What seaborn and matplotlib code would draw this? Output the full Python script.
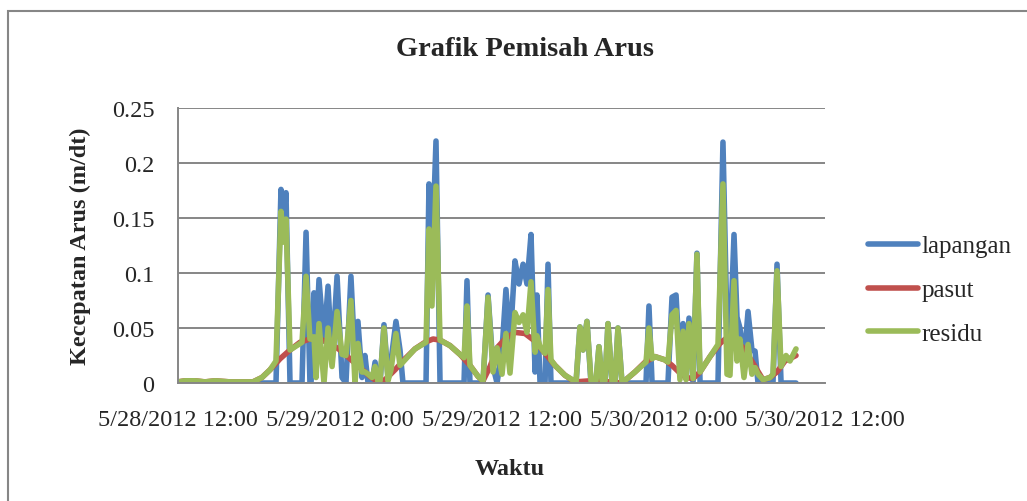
import pandas as pd
import seaborn as sns
import matplotlib.pyplot as plt
from matplotlib.patches import Rectangle

# time is in hours after 5/28/2012 12:00
start = pd.Timestamp('2012-05-28 12:00')

jam_lapangan = [0.00, 7.27, 7.64, 7.86, 8.01, 8.31, 9.20, 9.50, 9.79, 9.87,
                10.09, 10.24, 10.46, 10.83, 11.13, 11.43, 11.80, 12.17, 12.46, 12.83,
                13.13, 13.35, 13.65, 13.87, 14.10, 14.39, 14.62, 14.84, 14.99, 15.28,
                15.58, 15.80, 16.17, 16.47, 16.69, 18.40, 18.62, 18.84, 19.14, 19.44,
                21.22, 21.44, 21.66, 22.63, 23.00, 23.37, 23.67, 24.04, 24.33, 24.63,
                25.00, 25.30, 25.60, 25.89, 26.19, 26.49, 26.63, 26.86, 27.23, 27.45,
                27.67, 29.53, 29.82, 30.05, 30.34, 30.64, 31.01, 31.23, 31.46, 31.68,
                31.90, 32.20, 32.42, 32.64, 32.94, 34.72, 34.94, 35.17, 36.35, 36.65,
                36.95, 37.24, 37.47, 37.69, 37.91, 38.21, 38.50, 38.73, 40.06, 40.43,
                40.73, 40.95, 41.25, 41.47, 41.69, 41.99, 42.29, 42.58, 42.81, 43.03,
                44.14, 44.44, 44.74, 45.85]
lapangan = [0.000, 0.000, 0.176, 0.150, 0.173, 0.000, 0.000, 0.137, 0.000, 0.000,
            0.082, 0.035, 0.094, 0.038, 0.088, 0.020, 0.097, 0.005, 0.000, 0.097,
            0.020, 0.056, 0.005, 0.025, 0.000, 0.000, 0.019, 0.000, 0.000, 0.053,
            0.005, 0.020, 0.056, 0.030, 0.000, 0.000, 0.181, 0.110, 0.220, 0.000,
            0.000, 0.093, 0.000, 0.000, 0.080, 0.015, 0.000, 0.030, 0.085, 0.035,
            0.111, 0.090, 0.108, 0.090, 0.135, 0.010, 0.080, 0.000, 0.000, 0.108,
            0.000, 0.000, 0.051, 0.030, 0.056, 0.000, 0.000, 0.033, 0.000, 0.000,
            0.054, 0.000, 0.000, 0.050, 0.000, 0.000, 0.070, 0.000, 0.000, 0.078,
            0.080, 0.012, 0.054, 0.008, 0.059, 0.000, 0.118, 0.000, 0.000, 0.219,
            0.050, 0.035, 0.135, 0.060, 0.050, 0.020, 0.065, 0.030, 0.029, 0.000,
            0.000, 0.108, 0.000, 0.000]

jam_pasut = [0.00, 0.52, 1.26, 2.00, 2.75, 3.86, 5.56, 6.23, 6.83, 7.57,
             8.31, 9.05, 9.79, 10.53, 11.28, 12.02, 12.76, 13.50, 14.24, 14.84,
             15.36, 16.10, 16.84, 17.58, 18.32, 18.92, 19.44, 20.18, 20.92, 21.66,
             22.26, 22.63, 23.15, 23.67, 24.26, 25.00, 25.74, 26.49, 27.23, 27.97,
             28.71, 29.45, 30.57, 32.05, 32.94, 33.90, 34.65, 35.39, 36.13, 36.65,
             37.24, 37.69, 38.21, 38.73, 39.47, 40.21, 40.80, 41.32, 42.07, 42.81,
             43.40, 43.92, 44.44, 45.03, 45.85]
pasut = [0.001, 0.002, 0.002, 0.001, 0.002, 0.001, 0.001, 0.005, 0.012, 0.022,
         0.030, 0.037, 0.040, 0.040, 0.036, 0.030, 0.022, 0.014, 0.006, 0.001,
         0.003, 0.012, 0.022, 0.031, 0.037, 0.040, 0.039, 0.034, 0.026, 0.016,
         0.006, 0.002, 0.015, 0.032, 0.040, 0.046, 0.045, 0.038, 0.027, 0.016,
         0.007, 0.001, 0.002, 0.001, 0.000, 0.010, 0.019, 0.024, 0.021, 0.016,
         0.009, 0.005, 0.004, 0.010, 0.024, 0.036, 0.042, 0.040, 0.030, 0.015,
         0.003, 0.005, 0.010, 0.020, 0.025]

jam_residu = [0.00, 0.52, 1.26, 2.00, 2.75, 3.86, 5.56, 6.23, 6.83, 7.27,
              7.64, 7.86, 8.01, 8.31, 9.20, 9.50, 9.79, 9.87, 10.09, 10.24,
              10.46, 10.83, 11.13, 11.43, 11.80, 12.17, 12.46, 12.83, 13.13, 13.35,
              13.65, 13.87, 14.10, 14.39, 14.62, 14.84, 14.99, 15.28, 15.58, 15.80,
              16.17, 16.47, 16.69, 17.58, 18.40, 18.62, 18.84, 19.14, 19.44, 20.18,
              20.92, 21.22, 21.44, 21.66, 22.26, 22.63, 23.00, 23.37, 23.67, 24.04,
              24.33, 24.63, 25.00, 25.30, 25.60, 25.89, 26.19, 26.49, 26.63, 26.86,
              27.23, 27.45, 27.67, 27.97, 28.71, 29.53, 29.82, 30.05, 30.34, 30.64,
              31.01, 31.23, 31.46, 31.68, 31.90, 32.20, 32.42, 32.64, 32.94, 33.90,
              34.72, 34.94, 35.17, 35.39, 36.13, 36.35, 36.65, 36.95, 37.24, 37.47,
              37.69, 37.91, 38.21, 38.50, 38.73, 39.47, 40.06, 40.43, 40.73, 40.95,
              41.25, 41.47, 41.69, 41.99, 42.29, 42.58, 42.81, 43.03, 43.40, 43.92,
              44.14, 44.44, 44.74, 45.11, 45.40, 45.85]
residu = [0.001, 0.002, 0.002, 0.001, 0.002, 0.001, 0.001, 0.005, 0.012, 0.020,
          0.156, 0.128, 0.149, 0.030, 0.037, 0.097, 0.040, 0.040, 0.042, 0.005,
          0.054, 0.000, 0.050, 0.015, 0.065, 0.026, 0.025, 0.075, 0.000, 0.036,
          0.010, 0.010, 0.008, 0.005, 0.015, 0.001, 0.002, 0.050, 0.002, 0.012,
          0.045, 0.016, 0.019, 0.031, 0.037, 0.140, 0.070, 0.179, 0.039, 0.034,
          0.026, 0.023, 0.070, 0.016, 0.006, 0.002, 0.078, 0.010, 0.032, 0.008,
          0.045, 0.009, 0.064, 0.055, 0.062, 0.046, 0.092, 0.028, 0.043, 0.033,
          0.027, 0.085, 0.021, 0.016, 0.007, 0.001, 0.051, 0.030, 0.056, 0.002,
          0.002, 0.033, 0.002, 0.002, 0.054, 0.001, 0.001, 0.050, 0.000, 0.010,
          0.019, 0.050, 0.022, 0.024, 0.021, 0.019, 0.062, 0.066, 0.003, 0.047,
          0.003, 0.054, 0.004, 0.117, 0.010, 0.024, 0.035, 0.181, 0.008, 0.007,
          0.093, 0.020, 0.040, 0.005, 0.035, 0.008, 0.014, 0.008, 0.003, 0.005,
          0.008, 0.102, 0.015, 0.025, 0.020, 0.031]

seri = ['lapangan', 'pasut', 'residu']
warna = ['#4F81BD', '#C0504D', '#9BBB59']

x_ticks = ['2012-05-28 12:00', '2012-05-29 00:00', '2012-05-29 12:00',
           '2012-05-30 00:00', '2012-05-30 12:00']
x_labels = ['5/28/2012 12:00', '5/29/2012 0:00', '5/29/2012 12:00',
            '5/30/2012 0:00', '5/30/2012 12:00']
y_ticks = [0, 0.05, 0.1, 0.15, 0.2, 0.25]
y_labels = ['0', '0.05', '0.1', '0.15', '0.2', '0.25']

frames = []
for nama, jam, nilai in zip(seri, [jam_lapangan, jam_pasut, jam_residu],
                            [lapangan, pasut, residu]):
    frames.append(pd.DataFrame({
        'waktu': start + pd.to_timedelta(jam, unit='h'),
        'kecepatan': nilai,
        'seri': nama,
    }))
df = pd.concat(frames, ignore_index=True)

sns.set_style('white')
plt.rcParams['font.family'] = ['Liberation Serif', 'DejaVu Serif']
grey = '#868686'

fig = plt.figure(figsize=(10.27, 5.02), dpi=100)
ax = fig.add_axes([178 / 1027, 1 - 384 / 502, 647 / 1027, 275 / 502])

sns.lineplot(data=df, x='waktu', y='kecepatan', hue='seri', hue_order=seri,
             palette=warna, linewidth=4.0, estimator=None, ax=ax,
             solid_joinstyle='round', solid_capstyle='round')

ax.set_xlim(pd.Timestamp(x_ticks[0]), pd.Timestamp(x_ticks[-1]))
ax.set_ylim(0, 0.25)
ax.set_xticks([pd.Timestamp(t) for t in x_ticks])
ax.set_xticklabels(x_labels, fontsize=17.5)
ax.set_yticks(y_ticks)
ax.set_yticklabels(y_labels, fontsize=17.5)
ax.tick_params(axis='x', length=0, pad=19)
ax.tick_params(axis='y', length=0, pad=17)
ax.yaxis.grid(True, color=grey, linewidth=1.4)
ax.set_axisbelow(True)
for s in ['top', 'right']:
    ax.spines[s].set_visible(False)
for s in ['left', 'bottom']:
    ax.spines[s].set_color(grey)
    ax.spines[s].set_linewidth(1.4)
ax.set_xlabel('')
ax.set_ylabel('')

handles, labels = ax.get_legend_handles_labels()
ax.legend(handles, labels, loc='upper left', bbox_to_anchor=(868 / 1027, 1 - 236 / 502),
          bbox_transform=fig.transFigure, frameon=False, fontsize=18,
          borderpad=0, borderaxespad=0, handlelength=2.0, handletextpad=0.15,
          labelspacing=0.85)

fig.text(525 / 1027, 1 - 50 / 502, 'Grafik Pemisah Arus', ha='center', va='center',
         fontsize=20.5, fontweight='bold')
fig.text(80 / 1027, 1 - 246 / 502, 'Kecepatan Arus (m/dt)', ha='center', va='center',
         rotation=90, fontsize=17.5, fontweight='bold')
fig.text(510 / 1027, 1 - 470 / 502, 'Waktu', ha='center', va='center',
         fontsize=17.5, fontweight='bold')

fig.patches.append(Rectangle((8 / 1027, -0.1), 2, 1 - 12 / 502 + 0.1,
                             transform=fig.transFigure, fill=False,
                             edgecolor=grey, linewidth=1.5))

fig.savefig('out.png', dpi=100)
